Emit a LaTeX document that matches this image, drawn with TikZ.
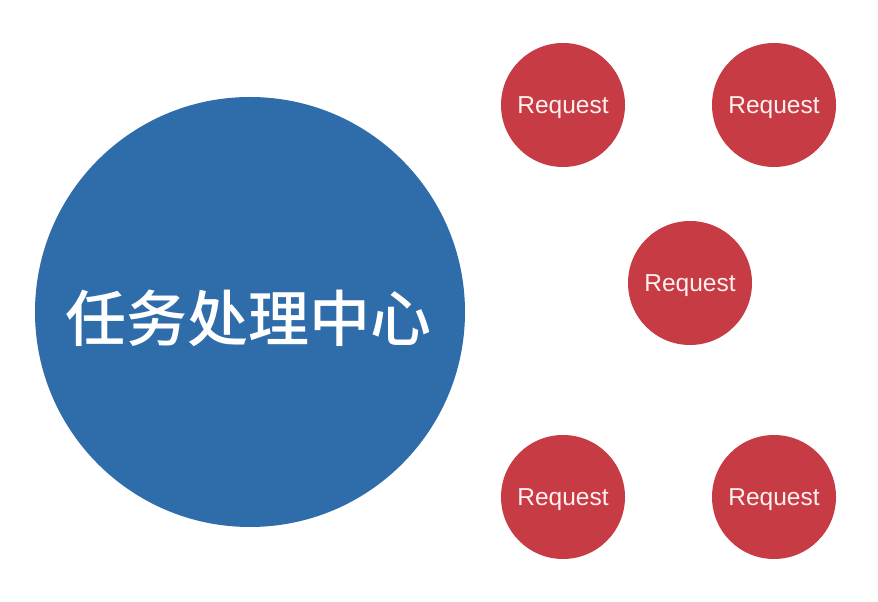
\documentclass[tikz,border=0pt]{standalone}
\usepackage{fontspec}
\setmainfont{Liberation Sans}
\newfontfamily\cjk{Noto Sans CJK SC}[BoldFont={Noto Sans CJK SC Medium}]
\definecolor{bigblue}{RGB}{46,108,170}
\definecolor{reqred}{RGB}{199,59,69}
\definecolor{reqtext}{RGB}{255,240,240}
\begin{document}
\begin{tikzpicture}[x=1pt,y=1pt,
  hub/.style={circle,fill=bigblue,minimum size=430pt,inner sep=0pt},
  hubtext/.style={text=white,font=\cjk\bfseries\fontsize{61}{61}\selectfont},
  req/.style={circle,fill=reqred,minimum size=124pt,inner sep=0pt},
  reqlabel/.style={text=reqtext,inner sep=0pt,font=\fontsize{24.5}{24.5}\selectfont}]
\useasboundingbox (0,0) rectangle (878,602);
\fill[white] (0,0) rectangle (878,602);
\node[hub] (hub) at (250,290) {};
\node[hubtext] (hubt) at (248,284) {任务处理中心};
\node[req] (r1) at (563,497) {};
\node[req] (r2) at (774,497) {};
\node[req] (r3) at (690,319) {};
\node[req] (r4) at (563,105) {};
\node[req] (r5) at (774,105) {};
\foreach \r in {r1,r2,r3,r4,r5}
  \node[reqlabel] (\r t) at ([yshift=-3pt]\r.center) {Request};
\end{tikzpicture}
\end{document}
